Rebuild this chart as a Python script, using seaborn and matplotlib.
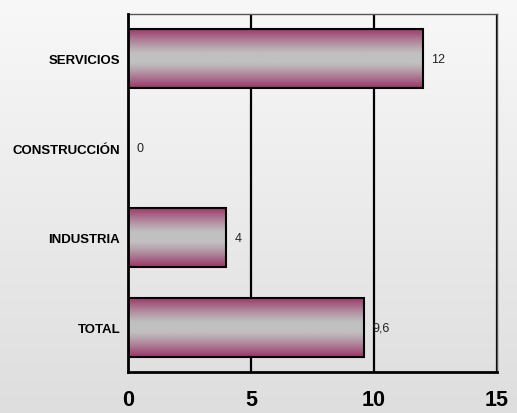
import numpy as np
import pandas as pd
import matplotlib
matplotlib.use('Agg')
import matplotlib.pyplot as plt
from matplotlib.colors import to_rgb
import seaborn as sns

# datos
sectores = ['SERVICIOS', 'CONSTRUCCIÓN', 'INDUSTRIA', 'TOTAL']
valores = [12, 0, 4, 9.6]
etiquetas = ['12', '0', '4', '9,6']

df = pd.DataFrame({'sector': sectores, 'valor': valores})

sns.set_style('white')
plt.rcParams['font.family'] = ['Liberation Sans', 'DejaVu Sans']
plt.rcParams['text.color'] = 'black'
plt.rcParams['xtick.color'] = 'black'
plt.rcParams['ytick.color'] = 'black'

fig = plt.figure(figsize=(5.17, 4.14), dpi=100)

# fondo degradado gris
bg = fig.add_axes([0, 0, 1, 1], zorder=-10)
grad = np.linspace(0, 1, 256).reshape(-1, 1)
top_c = np.array(to_rgb('#f8f8f8'))
bot_c = np.array(to_rgb('#dedede'))
bg_img = top_c + (bot_c - top_c) * grad[..., None]
bg.imshow(bg_img, aspect='auto', extent=[0, 1, 0, 1])
bg.axis('off')

ax = fig.add_axes([0.2476, 0.099, 0.7137, 0.8648])
ax.set_facecolor('none')

sns.barplot(data=df, x='valor', y='sector', orient='h', ax=ax,
            color='#993366', width=0.66, edgecolor='black', linewidth=1.5,
            zorder=3)

# degradado en cada barra
maroon = np.array(to_rgb('#993366'))
silver = np.array(to_rgb('#c0c0c0'))
s = np.linspace(0, 1, 200)
t = np.abs(s - 0.5) * 2
t = np.clip((t - 0.15) / 0.85, 0, 1) ** 1.2
bar_img = (silver + (maroon - silver) * t[:, None]).reshape(-1, 1, 3)
for p in ax.patches:
    x0, y0 = p.get_x(), p.get_y()
    w, h = p.get_width(), p.get_height()
    if w <= 0:
        continue
    im = ax.imshow(bar_img, aspect='auto', extent=[x0, x0 + w, y0 + h, y0],
                   zorder=3.5, interpolation='bilinear')
    im.set_clip_path(p)
    p.set_facecolor('none')
    p.set_zorder(4)

# etiquetas de valor
for i, (v, lab) in enumerate(zip(valores, etiquetas)):
    ax.text(v + 0.33, i, lab, va='center', ha='left', fontsize=9,
            color='#222222', zorder=5)

ax.set_xlim(0, 15)
ax.set_ylim(3.5, -0.5)
ax.set_xticks([0, 5, 10, 15])
ax.set_xticklabels(['0', '5', '10', '15'], fontsize=15.5, fontweight='bold')
ax.tick_params(axis='x', direction='inout', length=9, width=1.8, pad=8)

# ticks del eje y en los limites, etiquetas en el centro
ax.set_yticks([-0.5, 0.5, 1.5, 2.5, 3.5])
ax.set_yticklabels([])
ax.set_yticks(range(len(sectores)), minor=True)
ax.set_yticklabels(sectores, minor=True, fontsize=9.5, fontweight='bold')
ax.tick_params(axis='y', which='major', direction='out', length=5, width=1.8)
ax.tick_params(axis='y', which='minor', length=0, pad=5.5)

for x in [5, 10, 15]:
    ax.axvline(x, color='black', linewidth=1.6, zorder=2)

ax.set_xlabel('')
ax.set_ylabel('')
for side in ['left', 'bottom']:
    ax.spines[side].set_linewidth(2)
    ax.spines[side].set_color('black')
    ax.spines[side].set_zorder(6)
for side in ['top', 'right']:
    ax.spines[side].set_linewidth(1)
    ax.spines[side].set_color('#555555')

fig.savefig('out.png', dpi=100)
